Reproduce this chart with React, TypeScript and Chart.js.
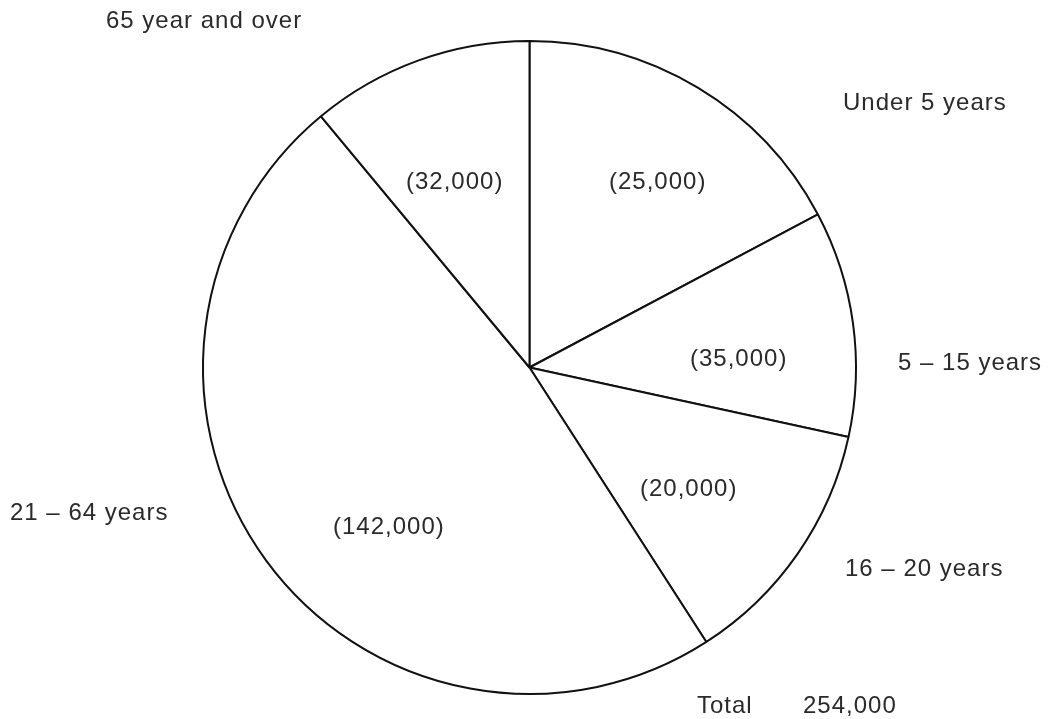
import React, { useEffect, useRef } from "react";
import { Chart, registerables } from "chart.js";

Chart.register(...registerables);

// Categories in drawing order (clockwise from 12 o'clock)
const categories = ["Under 5 years", "5 – 15 years", "16 – 20 years", "21 – 64 years", "65 year and over"];
// Population values shown in the slices
const populations = [25000, 35000, 20000, 142000, 32000];
// Slice sizes as drawn in the picture (degrees of the circle)
const sliceDegrees = [62.05, 40.25, 44.9, 173.1, 39.7];
const totalLabel = "Total";
const totalValue = 254000;

// Label layout: offsets from the pie centre (x = left edge, y = baseline)
const valueLabelPos = [
  [79.5, -178.5],
  [160.5, -1.5],
  [110.5, 128.5],
  [-196.5, 166.5],
  [-123.5, -178.5],
];
const categoryLabelPos = [
  [313.5, -257.5],
  [368.5, 2.5],
  [315.5, 208.5],
  [-519.5, 152.5],
  [-423.5, -339.5],
];
const totalLabelPos = [167.5, 345.5];
const totalValuePos = [273.5, 345.5];

const fmt = (n: number) => n.toLocaleString("en-US");

const labelPlugin = {
  id: "pieLabels",
  afterDraw(chart: any) {
    const arc = chart.getDatasetMeta(0).data[0];
    if (!arc) return;
    const cx = arc.x;
    const cy = arc.y;
    const ctx = chart.ctx as CanvasRenderingContext2D;
    ctx.save();
    ctx.fillStyle = "#2a2a2a";
    ctx.font = '24px "Liberation Sans", Arial, sans-serif';
    (ctx as any).letterSpacing = "1px";
    ctx.textAlign = "left";
    ctx.textBaseline = "alphabetic";
    populations.forEach((v, i) => {
      ctx.fillText("(" + fmt(v) + ")", cx + valueLabelPos[i][0], cy + valueLabelPos[i][1]);
    });
    categories.forEach((c, i) => {
      ctx.fillText(c, cx + categoryLabelPos[i][0], cy + categoryLabelPos[i][1]);
    });
    ctx.fillText(totalLabel, cx + totalLabelPos[0], cy + totalLabelPos[1]);
    ctx.fillText(fmt(totalValue), cx + totalValuePos[0], cy + totalValuePos[1]);
    ctx.restore();
  },
};

export default function App() {
  const ref = useRef<HTMLCanvasElement | null>(null);
  useEffect(() => {
    if (!ref.current) return;
    const chart = new Chart(ref.current, {
      type: "pie",
      data: {
        labels: categories,
        datasets: [
          {
            data: sliceDegrees,
            backgroundColor: "#ffffff",
            borderColor: "#111111",
            borderWidth: 2,
            hoverOffset: 0,
          },
        ],
      },
      options: {
        responsive: false,
        animation: false,
        radius: 326.5,
        layout: { padding: { left: 9, right: 0, top: 16, bottom: 0 } },
        plugins: {
          legend: { display: false },
          tooltip: { enabled: false },
        },
      } as any,
      plugins: [labelPlugin],
    });
    return () => chart.destroy();
  }, []);
  return (
    <div style={{ position: "absolute", left: 0, top: 0, width: 1050, height: 719, background: "#fff" }}>
      <canvas ref={ref} width={1050} height={719} style={{ width: 1050, height: 719 }} />
    </div>
  );
}
